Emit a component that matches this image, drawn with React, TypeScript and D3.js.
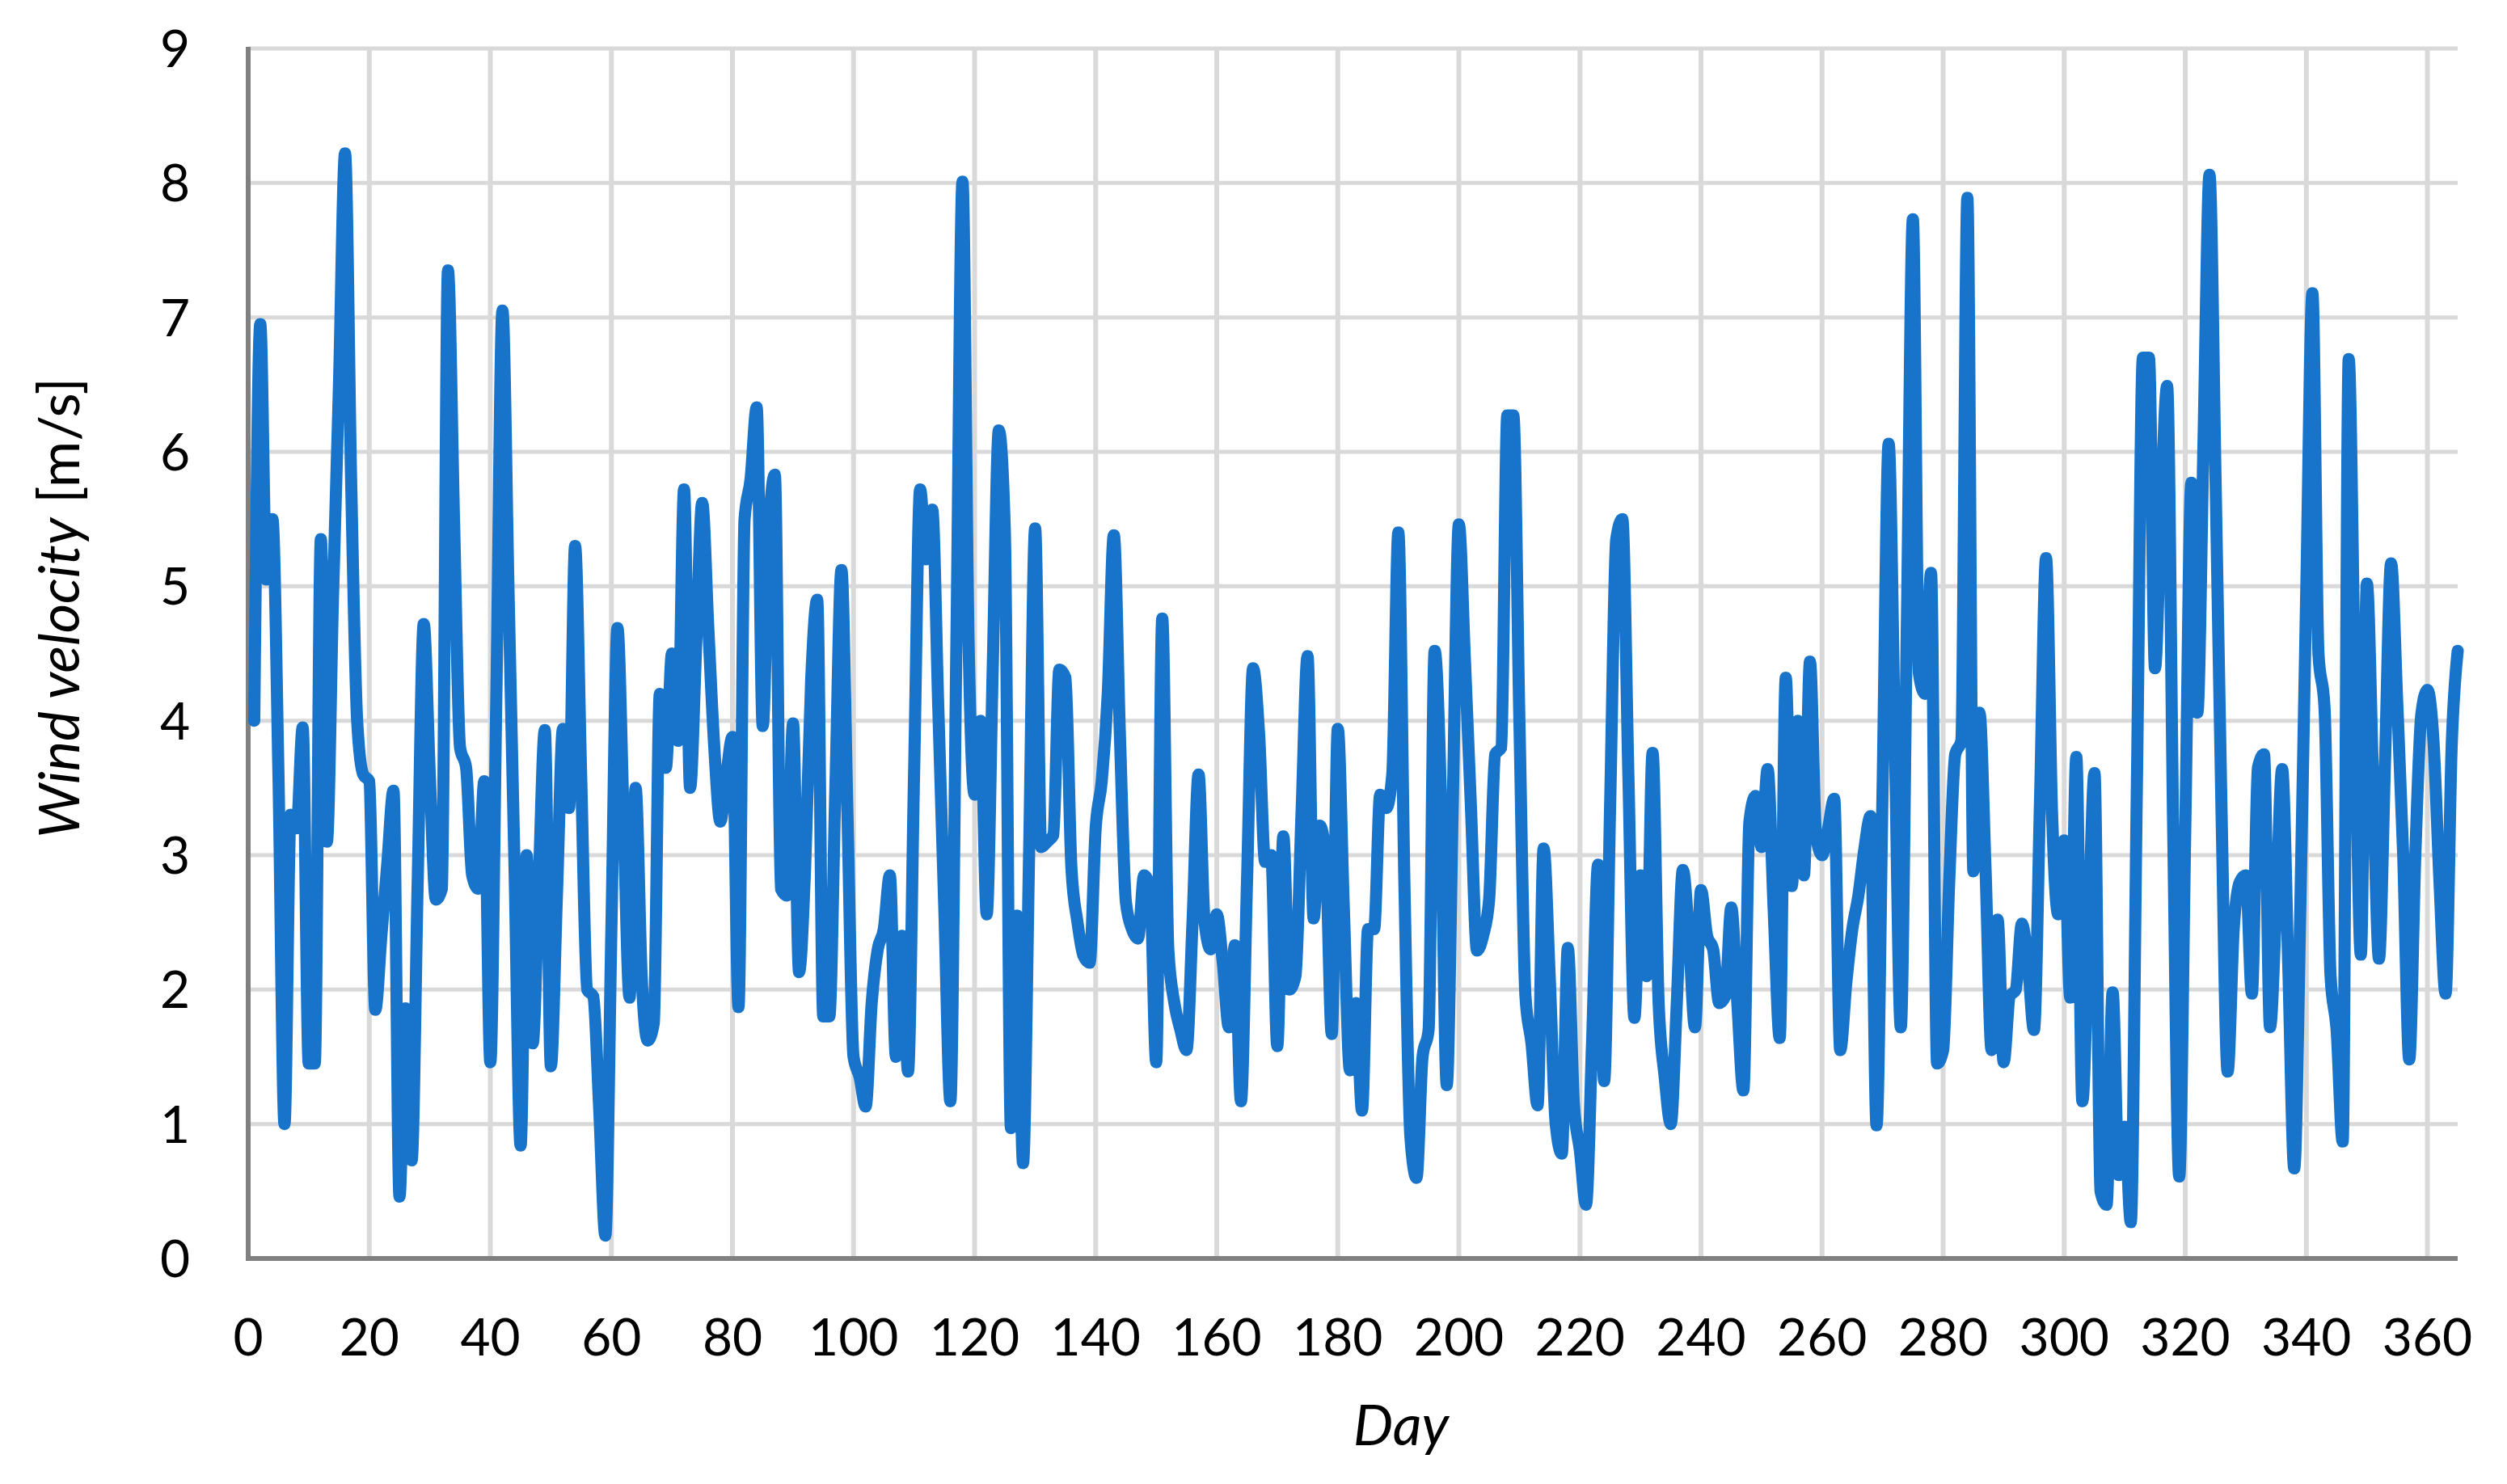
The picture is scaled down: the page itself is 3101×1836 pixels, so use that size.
import React from "react";
import * as d3 from "d3";

const days: number[] = Array.from({ length: 365 }, (_, i) => i + 1);

const windVelocity: number[] = [
  4.0, 6.95, 5.05, 5.5, 3.6, 1.0, 3.3, 3.2, 3.95, 1.45,
  1.45, 5.35, 3.1, 4.9, 6.5, 8.22, 5.8, 4.0, 3.6, 3.55,
  1.85, 2.4, 2.95, 3.48, 0.46, 1.86, 0.73, 2.8, 4.72, 3.6,
  2.67, 2.75, 7.35, 5.5, 3.8, 3.65, 2.85, 2.75, 3.55, 1.46,
  4.2, 7.05, 4.98, 2.91, 0.84, 3.0, 1.6, 2.8, 3.93, 1.43,
  2.7, 3.94, 3.35, 5.3, 3.6, 2.0, 1.95, 1.1, 0.17, 2.45,
  4.69, 3.3, 1.94, 3.5, 2.1, 1.62, 1.75, 4.2, 3.65, 4.5,
  3.85, 5.72, 3.5, 4.55, 5.62, 4.7, 3.8, 3.25, 3.6, 3.88,
  1.87, 5.5, 5.8, 6.33, 3.96, 5.4, 5.83, 2.75, 2.7, 3.98,
  2.13, 2.9, 4.3, 4.9, 1.8, 1.8, 3.5, 5.12, 3.3, 1.5,
  1.35, 1.13, 1.9, 2.3, 2.45, 2.85, 1.5, 2.4, 1.39, 3.6,
  5.72, 5.2, 5.57, 4.1, 2.6, 1.17, 4.6, 8.01, 4.6, 3.45,
  4.0, 2.56, 4.4, 6.16, 5.4, 0.97, 2.55, 0.71, 3.0, 5.43,
  3.06, 3.1, 3.15, 4.38, 4.32, 2.9, 2.5, 2.25, 2.2, 3.2,
  3.55, 4.2, 5.38, 3.9, 2.65, 2.45, 2.38, 2.85, 2.75, 1.46,
  4.76, 2.3, 1.9, 1.7, 1.55, 2.5, 3.6, 2.5, 2.3, 2.56,
  2.2, 1.72, 2.33, 1.17, 2.8, 4.39, 3.9, 2.95, 3.0, 1.58,
  3.14, 2.0, 2.1, 3.3, 4.48, 2.53, 3.22, 3.0, 1.67, 3.94,
  2.6, 1.4, 1.9, 1.1, 2.45, 2.45, 3.45, 3.35, 3.6, 5.4,
  2.8, 0.9, 0.6, 1.5, 1.7, 4.52, 3.5, 1.29, 3.4, 5.46,
  4.45, 3.35, 2.29, 2.4, 2.67, 3.75, 3.8, 6.27, 6.27, 4.0,
  1.95, 1.6, 1.14, 3.05, 2.1, 1.0, 0.78, 2.31, 1.15, 0.8,
  0.4, 1.6, 2.93, 1.32, 3.4, 5.35, 5.5, 3.6, 1.79, 2.85,
  2.1, 3.76, 1.9, 1.35, 1.0, 1.9, 2.89, 2.4, 1.72, 2.74,
  2.4, 2.3, 1.9, 1.95, 2.61, 1.9, 1.25, 3.25, 3.44, 3.06,
  3.64, 2.6, 1.64, 4.32, 2.77, 4.0, 2.85, 4.44, 3.15, 3.0,
  3.2, 3.42, 1.55, 2.05, 2.45, 2.7, 3.05, 3.29, 0.99, 3.5,
  6.06, 3.9, 1.72, 4.7, 7.73, 4.35, 4.2, 5.1, 1.45, 1.55,
  2.8, 3.75, 3.85, 7.89, 2.88, 4.06, 2.9, 1.55, 2.52, 1.46,
  1.95, 2.0, 2.49, 2.2, 1.7, 3.4, 5.21, 3.3, 2.56, 3.11,
  1.94, 3.73, 1.17, 2.4, 3.61, 0.5, 0.4, 1.98, 0.62, 0.98,
  0.27, 3.5, 6.7, 6.7, 4.39, 5.6, 6.49, 3.2, 0.61, 3.2,
  5.77, 4.06, 6.05, 8.06, 5.8, 3.3, 1.39, 2.45, 2.8, 2.85,
  1.97, 3.65, 3.75, 1.72, 2.6, 3.64, 2.2, 0.67, 2.6, 5.0,
  7.18, 4.5, 4.1, 2.1, 1.7, 0.87, 6.69, 4.3, 2.26, 5.02,
  3.6, 2.23, 3.7, 5.17, 4.15, 3.0, 1.48, 3.0, 4.05, 4.23,
  3.85, 2.8, 1.97, 3.8, 4.52,
];

const xTicks: number[] = d3.range(0, 361, 20);
const yTicks: number[] = d3.range(0, 10, 1);

const W = 3101;
const H = 1836;
const FONT = "Lato, 'Open Sans', sans-serif";

export default function App() {
  const x = d3.scaleLinear().domain([0, 365]).range([307, 3040]);
  const y = d3.scaleLinear().domain([0, 9]).range([1557, 60]);

  const line = d3
    .line<number>()
    .x((_, i) => x(days[i]))
    .y((v) => y(v))
    .curve(d3.curveMonotoneX);

  const [x0, x1] = x.range();
  const [yb, yt] = y.range();

  return (
    <svg
      width={W}
      height={H}
      style={{ position: "absolute", left: 0, top: 0, display: "block", background: "#fff" }}
    >
      <rect x={0} y={0} width={W} height={H} fill="#ffffff" />
      {yTicks
        .filter((t) => t > 0)
        .map((t) => (
          <line key={"hg" + t} x1={x0} x2={x1} y1={y(t)} y2={y(t)} stroke="#d9d9d9" strokeWidth={5} />
        ))}
      {xTicks
        .filter((t) => t > 0)
        .map((t) => (
          <line key={"vg" + t} x1={x(t)} x2={x(t)} y1={yt} y2={yb} stroke="#d9d9d9" strokeWidth={6} />
        ))}
      <line x1={x0} x2={x0} y1={yt - 2} y2={yb + 3} stroke="#808080" strokeWidth={6} />
      <line x1={x0 - 3} x2={x1} y1={yb} y2={yb} stroke="#808080" strokeWidth={6} />
      <path
        d={line(windVelocity) || ""}
        fill="none"
        stroke="#1874cb"
        strokeWidth={15}
        strokeLinejoin="round"
        strokeLinecap="round"
      />
      {yTicks.map((t) => (
        <text
          key={"yt" + t}
          x={235}
          y={y(t)}
          dy="0.36em"
          textAnchor="end"
          fontFamily={FONT}
          fontSize={64}
          fill="#000"
        >
          {t}
        </text>
      ))}
      {xTicks.map((t) => (
        <text
          key={"xt" + t}
          x={x(t)}
          y={1677}
          textAnchor="middle"
          fontFamily={FONT}
          fontSize={64}
          fill="#000"
        >
          {t}
        </text>
      ))}
      <text
        transform={`translate(98, 752) rotate(-90)`}
        textAnchor="middle"
        fontFamily={FONT}
        fontSize={70}
        fill="#000"
      >
        <tspan fontStyle="italic">Wind velocity</tspan>
        <tspan> [m/s]</tspan>
      </text>
      <text
        x={1733}
        y={1788}
        textAnchor="middle"
        fontFamily={FONT}
        fontSize={70}
        fontStyle="italic"
        fill="#000"
      >
        Day
      </text>
    </svg>
  );
}
